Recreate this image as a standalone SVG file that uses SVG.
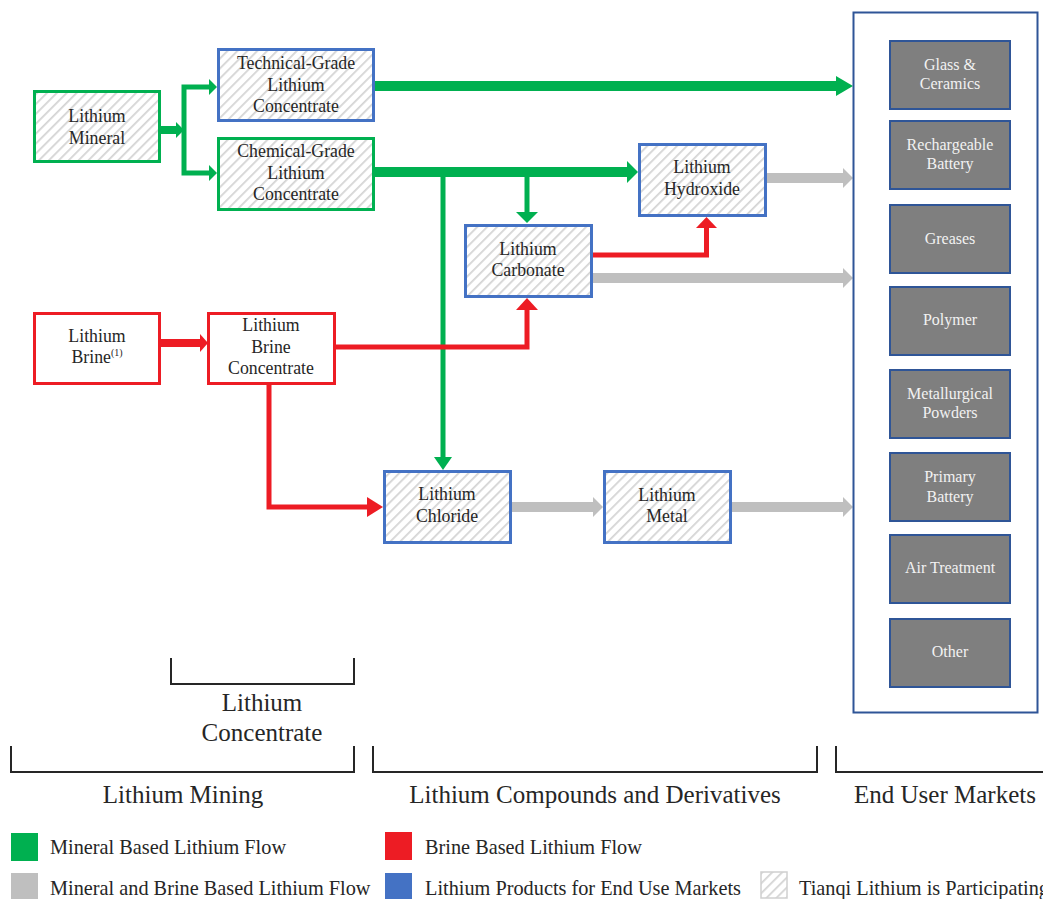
<svg xmlns="http://www.w3.org/2000/svg" width="1043" height="899" viewBox="0 0 1043 899">
<style>
text{font-family:'Liberation Serif','Times New Roman','DejaVu Serif',serif}
.t{font-size:17.8px;fill:#262626;text-anchor:middle}
.mt{font-size:16px;fill:#f2f2f2;text-anchor:middle}
.lbl{font-size:25px;fill:#262626;text-anchor:middle}
.lg{font-size:20.3px;fill:#262626}
.g{fill:url(#hatch);stroke:#00b050;stroke-width:3}
.b{fill:url(#hatch);stroke:#4472c4;stroke-width:3}
.r{fill:#fff;stroke:#ed1c24;stroke-width:3}
.m{fill:#7f7f7f;stroke:#2f5597;stroke-width:2}
.lg1{fill:none;stroke:#00b050}
.lr{fill:none;stroke:#ed1c24}
.lgr{fill:none;stroke:#bfbfbf}
.hg{fill:#00b050}
.hr{fill:#ed1c24}
.hgr{fill:#bfbfbf}
.br{fill:none;stroke:#262626;stroke-width:2}
</style>
<defs>
<pattern id="hatch" patternUnits="userSpaceOnUse" width="7" height="7" patternTransform="rotate(45)">
<rect width="7" height="7" fill="#fff"/>
<line x1="0" y1="0" x2="0" y2="7" stroke="#d4d4d4" stroke-width="3.5"/>
</pattern>
</defs>

<g id="connectors">
<path class="lg1" stroke-width="8" d="M161 130 H177"/>
<polygon class="hg" points="176,122 184,130 176,138"/>
<path class="lg1" stroke-width="5" d="M184 84.5 V175.5 M184 87 H210 M184 173 H210"/>
<polygon class="hg" points="209,79 217,87 209,95"/>
<polygon class="hg" points="209,165 217,173 209,181"/>
<path class="lg1" stroke-width="10" d="M374 86 H837"/>
<polygon class="hg" points="836,76 853,86 836,96"/>
<path class="lg1" stroke-width="10" d="M375 172 H628"/>
<polygon class="hg" points="627,161 638,172 627,183"/>
<path class="lg1" stroke-width="5" d="M443 172 V459"/>
<polygon class="hg" points="434,457 452,457 443,470"/>
<path class="lg1" stroke-width="5" d="M527 172 V213"/>
<polygon class="hg" points="516,212 538,212 527,223"/>
<path class="lr" stroke-width="8" d="M161 343 H201"/>
<polygon class="hr" points="200,334 208,343 200,352"/>
<path class="lr" stroke-width="5" d="M335 347 H527 V309"/>
<polygon class="hr" points="516,310 538,310 527,298"/>
<path class="lr" stroke-width="5" d="M592 255 H706.5 V227"/>
<polygon class="hr" points="696,228 717,228 706.5,217"/>
<path class="lr" stroke-width="5" d="M269 384 V507 H368"/>
<polygon class="hr" points="367,497 383,507 367,517"/>
<path class="lgr" stroke-width="10" d="M766 178 H844"/>
<polygon class="hgr" points="843,168 853,178 843,188"/>
<path class="lgr" stroke-width="10" d="M592 278 H844"/>
<polygon class="hgr" points="843,268 853,278 843,288"/>
<path class="lgr" stroke-width="10" d="M512 507 H594"/>
<polygon class="hgr" points="593,497 603,507 593,517"/>
<path class="lgr" stroke-width="10" d="M732 507 H844"/>
<polygon class="hgr" points="843,497 853,507 843,517"/>
</g>

<g id="lithium-mineral">
<rect class="g" x="34.5" y="91.5" width="125" height="70"/>
<text class="t" x="97" y="122">Lithium</text>
<text class="t" x="97" y="144">Mineral</text>
</g>
<g id="technical-grade">
<rect class="b" x="218.5" y="49.5" width="155" height="71"/>
<text class="t" x="296" y="69">Technical-Grade</text>
<text class="t" x="296" y="91">Lithium</text>
<text class="t" x="296" y="112">Concentrate</text>
</g>
<g id="chemical-grade">
<rect class="g" x="218.5" y="138.5" width="155" height="71"/>
<text class="t" x="296" y="157">Chemical-Grade</text>
<text class="t" x="296" y="179">Lithium</text>
<text class="t" x="296" y="200">Concentrate</text>
</g>
<g id="lithium-hydroxide">
<rect class="b" x="639.5" y="144.5" width="126" height="71"/>
<text class="t" x="702" y="173">Lithium</text>
<text class="t" x="702" y="195">Hydroxide</text>
</g>
<g id="lithium-carbonate">
<rect class="b" x="465.5" y="225.5" width="126" height="71"/>
<text class="t" x="528" y="255">Lithium</text>
<text class="t" x="528" y="276">Carbonate</text>
</g>
<g id="lithium-brine">
<rect class="r" x="34.5" y="313.5" width="125" height="70"/>
<text class="t" x="97" y="342">Lithium</text>
<text class="t" x="97" y="363">Brine<tspan font-size="10" dy="-7">(1)</tspan></text>
</g>
<g id="brine-concentrate">
<rect class="r" x="208.5" y="313.5" width="126" height="70"/>
<text class="t" x="271" y="331">Lithium</text>
<text class="t" x="271" y="353">Brine</text>
<text class="t" x="271" y="374">Concentrate</text>
</g>
<g id="lithium-chloride">
<rect class="b" x="384.5" y="471.5" width="126" height="71"/>
<text class="t" x="447" y="500">Lithium</text>
<text class="t" x="447" y="522">Chloride</text>
</g>
<g id="lithium-metal">
<rect class="b" x="604.5" y="471.5" width="126" height="71"/>
<text class="t" x="667" y="501">Lithium</text>
<text class="t" x="667" y="522">Metal</text>
</g>

<g id="end-user-markets">
<rect x="853.5" y="12.5" width="184" height="700" fill="#fff" stroke="#2f5597" stroke-width="2"/>
<g id="glass"><rect class="m" x="890" y="41" width="120" height="68"/><text class="mt" x="950" y="70">Glass &amp;</text><text class="mt" x="950" y="89">Ceramics</text></g>
<g id="rechargeable"><rect class="m" x="890" y="121" width="120" height="68"/><text class="mt" x="950" y="150">Rechargeable</text><text class="mt" x="950" y="169">Battery</text></g>
<g id="greases"><rect class="m" x="890" y="205" width="120" height="68"/><text class="mt" x="950" y="244">Greases</text></g>
<g id="polymer"><rect class="m" x="890" y="287" width="120" height="68"/><text class="mt" x="950" y="325">Polymer</text></g>
<g id="metallurgical"><rect class="m" x="890" y="370" width="120" height="68"/><text class="mt" x="950" y="399">Metallurgical</text><text class="mt" x="950" y="418">Powders</text></g>
<g id="primary"><rect class="m" x="890" y="453" width="120" height="68"/><text class="mt" x="950" y="482">Primary</text><text class="mt" x="950" y="502">Battery</text></g>
<g id="air"><rect class="m" x="890" y="535" width="120" height="68"/><text class="mt" x="950" y="573">Air Treatment</text></g>
<g id="other"><rect class="m" x="890" y="619" width="120" height="68"/><text class="mt" x="950" y="657">Other</text></g>
</g>

<g id="brackets">
<path class="br" d="M171 658 V684 H354 V658"/>
<text class="lbl" x="262" y="711">Lithium</text>
<text class="lbl" x="262" y="741">Concentrate</text>
<path class="br" d="M11 746 V772 H354 V746"/>
<path class="br" d="M373 746 V772 H817 V746"/>
<path class="br" d="M836 746 V772 H1043"/>
<text class="lbl" x="183" y="803">Lithium Mining</text>
<text class="lbl" x="595" y="803">Lithium Compounds and Derivatives</text>
<text class="lbl" x="945" y="803">End User Markets</text>
</g>

<g id="legend">
<rect x="11" y="833" width="27" height="28" fill="#00b050"/>
<text class="lg" x="50" y="854">Mineral Based Lithium Flow</text>
<rect x="385" y="832" width="27" height="28" fill="#ed1c24"/>
<text class="lg" x="425" y="854">Brine Based Lithium Flow</text>
<rect x="11" y="873" width="27" height="26" fill="#bfbfbf"/>
<text class="lg" x="50" y="895">Mineral and Brine Based Lithium Flow</text>
<rect x="385" y="873" width="27" height="26" fill="#4472c4"/>
<text class="lg" x="425" y="895">Lithium Products for End Use Markets</text>
<rect x="761" y="872" width="26" height="26" fill="url(#hatch)" stroke="#d0d0d0" stroke-width="1.5"/>
<text class="lg" x="799" y="895">Tianqi Lithium is Participating</text>
</g>
</svg>
